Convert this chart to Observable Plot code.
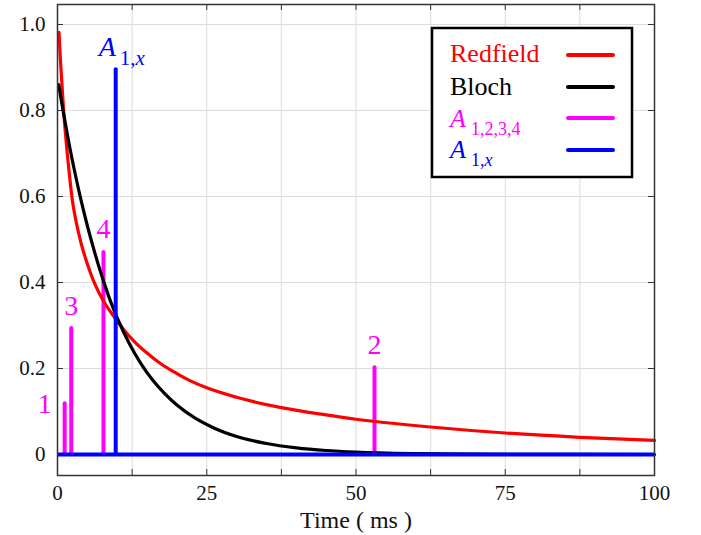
<!DOCTYPE html>
<html><head><meta charset="utf-8">
<script src="https://cdn.jsdelivr.net/npm/d3@7"></script>
<script src="https://cdn.jsdelivr.net/npm/@observablehq/plot@0.6"></script>
<style>
body{margin:0;background:#fff}
#chart{position:relative;width:701px;height:535px}
</style>
</head><body><div id="chart"></div>
<script>
// ---- data ----
const redfieldT = [0.25, 0.5, 1.0, 1.5, 2.0, 2.5, 3.0, 3.5, 4.0, 5.0, 6.0, 7.0, 8.0, 9.5, 11, 13, 15, 17, 19, 22, 25, 30, 37.5, 45, 50, 62.5, 75, 87.5, 100];
const redfieldV = [0.982, 0.915, 0.805, 0.72, 0.65, 0.59, 0.55, 0.517, 0.489, 0.443, 0.405, 0.375, 0.35, 0.32, 0.292, 0.261, 0.236, 0.214, 0.196, 0.173, 0.155, 0.133, 0.109, 0.092, 0.082, 0.064, 0.050, 0.040, 0.033];
const blochT = [0.2, 1, 2, 3, 4, 5, 6, 7, 8, 9, 10, 12, 14, 16, 18, 20, 23, 26, 30, 35, 40, 45, 50, 60, 70, 85, 100];
const blochV = [0.86, 0.794, 0.718, 0.65, 0.588, 0.532, 0.481, 0.434, 0.391, 0.352, 0.318, 0.259, 0.211, 0.172, 0.141, 0.115, 0.085, 0.063, 0.042, 0.0255, 0.0155, 0.0094, 0.0057, 0.0021, 0.0008, 0.0002, 0.0];
const peakT = [1.2, 53.1, 2.3, 7.7];
const peakA = [0.118, 0.202, 0.293, 0.47];
const peakLabels = ["1", "2", "3", "4"];
const a1xT = [9.75];
const a1xA = [0.895];
const xTickLabels = [0, 25, 50, 75, 100];
const xMinorTicks = [0, 12.5, 25, 37.5, 50, 62.5, 75, 87.5, 100];
const yTickValues = [0, 0.2, 0.4, 0.6, 0.8, 1.0];
const legendNames = ["Redfield", "Bloch", "A", "A"];
const legendSubs = ["", "", "1,2,3,4", "1,x"];
const legendColors = ["#ff0000", "#000000", "#ff00ff", "#0000ff"];
const xTitle = "Time ( ms )";

// ---- tables ----
const red = redfieldT.map((t, i) => ({t, v: redfieldV[i]}));
const bloch = blochT.map((t, i) => ({t, v: blochV[i]}));
const peaks = peakT.map((t, i) => ({t, a: peakA[i], label: peakLabels[i]}));
const a1x = a1xT.map((t, i) => ({t, a: a1xA[i]}));

const W = 701, H = 535, mL = 57, mR = 47, mT = 4, mB = 60;
const fw = W - mL - mR, fh = H - mT - mB;
const PINK = "#ff00ff", BLUE = "#0000ff", RED = "#ff0000";

const plot = Plot.plot({
  width: W, height: H,
  marginLeft: mL, marginRight: mR, marginTop: mT, marginBottom: mB,
  style: {fontFamily: "'Liberation Serif', 'Times New Roman', serif", background: "#fff", color: "#111"},
  x: {domain: [0, 100]},
  y: {domain: [-0.0488, 1.0465]},
  marks: [
    Plot.gridX({ticks: xMinorTicks, stroke: "#dcdcdc", strokeOpacity: 1}),
    Plot.gridY({ticks: yTickValues, stroke: "#dcdcdc", strokeOpacity: 1}),
    Plot.axisX({ticks: xTickLabels, tickSize: 0, tickPadding: 10, tickFormat: d => String(d), fontSize: 21, label: null}),
    Plot.axisY({ticks: yTickValues, tickSize: 0, tickPadding: 12, tickFormat: d => d === 0 ? "0" : d.toFixed(1), fontSize: 21, label: null}),
    Plot.tickX(xMinorTicks, {x: d => d, insetTop: fh - 6, stroke: "#333"}),
    Plot.tickX(xMinorTicks, {x: d => d, insetBottom: fh - 6, stroke: "#333"}),
    Plot.tickY(yTickValues, {y: d => d, insetRight: fw - 6, stroke: "#333"}),
    Plot.tickY(yTickValues, {y: d => d, insetLeft: fw - 6, stroke: "#333"}),
    Plot.ruleX(peaks, {x: "t", y1: 0, y2: "a", stroke: PINK, strokeWidth: 4, strokeLinecap: "round"}),
    Plot.line(red, {x: "t", y: "v", stroke: RED, strokeWidth: 3.2, curve: "monotone-x"}),
    Plot.line(bloch, {x: "t", y: "v", stroke: "#000", strokeWidth: 3.2, curve: "monotone-x"}),
    Plot.ruleX(a1x, {x: "t", y1: 0, y2: "a", stroke: BLUE, strokeWidth: 4, strokeLinecap: "round"}),
    Plot.ruleY([0], {stroke: BLUE, strokeWidth: 4}),
    Plot.text(peaks.filter(d => d.label !== "1"), {x: "t", y: "a", text: "label", dy: -14, lineAnchor: "bottom", fill: PINK, fontSize: 28}),
    Plot.text(peaks.filter(d => d.label === "1"), {x: "t", y: "a", text: "label", dx: -20, lineAnchor: "middle", fill: PINK, fontSize: 28}),
    Plot.text(a1x, {x: "t", y: "a", text: () => "A", textAnchor: "start", dx: -17, dy: -14, lineAnchor: "bottom", fontStyle: "italic", fontSize: 28, fill: BLUE}),
    Plot.frame({stroke: "#333", strokeWidth: 1.5}),
    Plot.text([xTitle], {frameAnchor: "bottom", text: d => d, dy: 45, lineAnchor: "middle", fontSize: 24, fill: "#111"})
  ]
});

document.getElementById("chart").appendChild(plot);
const svg = d3.select(plot);

// subscript on the A(1,x) label
svg.selectAll("text").filter(function() { return this.textContent === "A"; })
  .each(function() {
    const t = d3.select(this);
    t.append("tspan").attr("dx", 4).attr("dy", 9).attr("font-size", 21).attr("font-style", "normal").text("1,");
    t.append("tspan").attr("font-size", 21).attr("font-style", "italic").text("x");
  });

// legend
const lg = svg.append("g").attr("text-anchor", "start");
lg.append("rect").attr("x", 432).attr("y", 28).attr("width", 200).attr("height", 149)
  .attr("fill", "#fff").attr("stroke", "#000").attr("stroke-width", 2.5);
const baselines = [62, 95, 127, 158];
const lineYs = [55, 87, 118, 150];
legendNames.forEach((name, i) => {
  const txt = lg.append("text").attr("x", 450).attr("y", baselines[i]).attr("fill", legendColors[i])
    .attr("font-size", 26).attr("text-anchor", "start");
  if (legendSubs[i]) {
    txt.append("tspan").attr("font-style", "italic").text(name);
    const sub = txt.append("tspan").attr("dx", 5).attr("dy", 8).attr("font-size", 18);
    if (legendSubs[i].endsWith("x")) {
      sub.text(legendSubs[i].slice(0, -1));
      txt.append("tspan").attr("font-size", 18).attr("font-style", "italic").text("x");
    } else {
      sub.text(legendSubs[i]);
    }
  } else {
    txt.text(name);
  }
  lg.append("line").attr("x1", 568).attr("x2", 613).attr("y1", lineYs[i]).attr("y2", lineYs[i])
    .attr("stroke", legendColors[i]).attr("stroke-width", 4).attr("stroke-linecap", "round");
});
</script>
</body></html>
